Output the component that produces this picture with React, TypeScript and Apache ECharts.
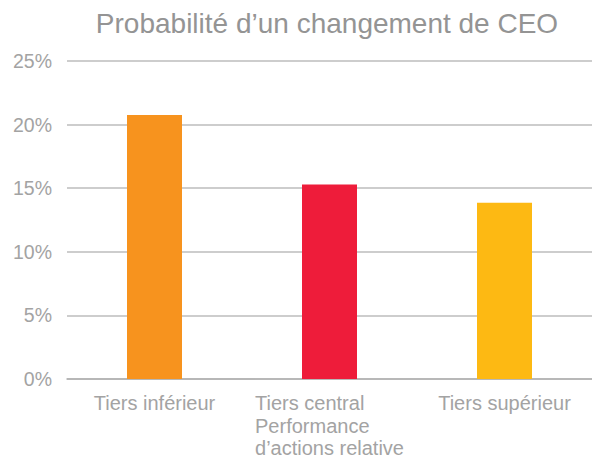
import React, { useEffect, useRef } from "react";
import * as echarts from "echarts";

const title = "Probabilité d\u2019un changement de CEO";
const categories = ["Tiers inférieur", "Tiers central\nPerformance\nd\u2019actions relative", "Tiers supérieur"];
const values = [20.75, 15.3, 13.85];
const barColors = ["#F7931E", "#EE1C3A", "#FDB913"];
const yTicks = [0, 5, 10, 15, 20, 25];

export default function App() {
  const ref = useRef<HTMLDivElement>(null);
  useEffect(() => {
    const chart = echarts.init(ref.current!, null, { renderer: "svg" });
    chart.setOption({
      animation: false,
      backgroundColor: "#ffffff",
      title: {
        text: title,
        left: 322,
        textAlign: "center",
        top: 4,
        textStyle: { fontFamily: "Liberation Sans", fontSize: 28, fontWeight: "normal", color: "#949494" },
      },
      grid: { left: 67, right: 0, top: 61, bottom: 87 },
      xAxis: {
        type: "category",
        data: categories,
        axisTick: { show: false },
        axisLine: { lineStyle: { color: "#b0b0b0", width: 1.5 } },
        axisLabel: {
          margin: 13,
          interval: 0,
          fontFamily: "Liberation Sans",
          fontSize: 20,
          color: "#a3a3a3",
          lineHeight: 22.5,
          formatter: (v: string) => v.split("\n").map((l) => `{a|${l}}`).join("\n"),
          rich: { a: { align: "left", fontFamily: "Liberation Sans", fontSize: 20, color: "#a3a3a3", lineHeight: 22.5 } },
        },
      },
      yAxis: {
        type: "value",
        min: yTicks[0],
        max: yTicks[yTicks.length - 1],
        interval: 5,
        axisLabel: {
          margin: 15,
          fontFamily: "Liberation Sans",
          fontSize: 19.5,
          color: "#a3a3a3",
          formatter: (v: number) => `${v}%`,
        },
        splitLine: { lineStyle: { color: "#bdbdbd", width: 1.5 } },
      },
      series: [
        {
          type: "bar",
          barWidth: 55,
          data: values.map((v, i) => ({ value: v, itemStyle: { color: barColors[i] } })),
        },
      ],
    });
    return () => chart.dispose();
  }, []);
  return <div ref={ref} style={{ width: 592, height: 466, position: "absolute", left: 0, top: 0 }} />;
}
